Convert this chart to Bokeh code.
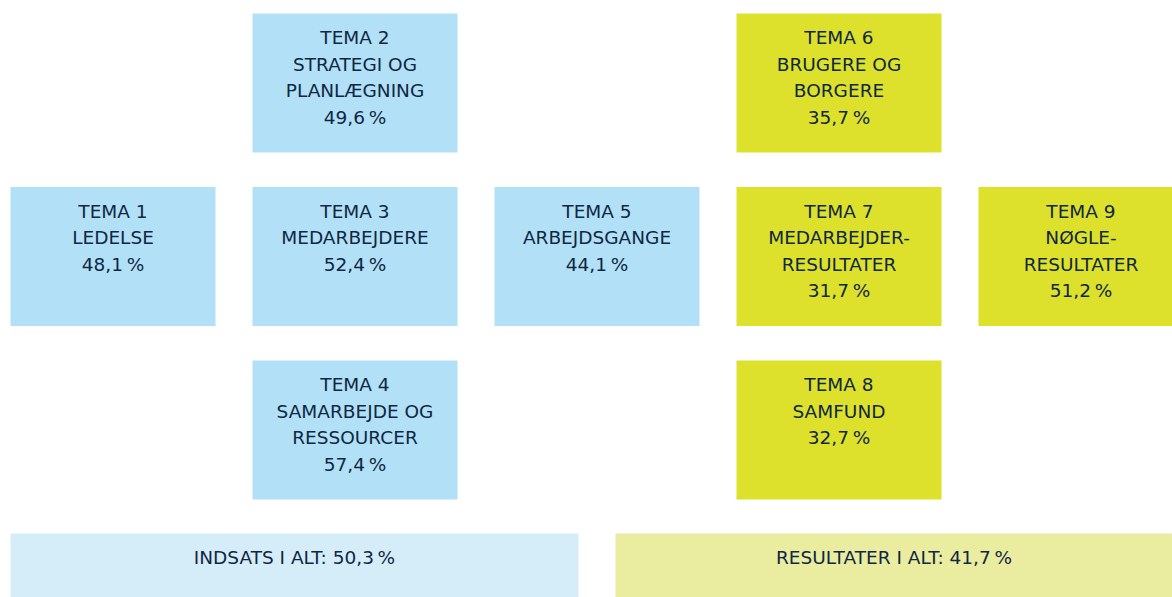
from bokeh.plotting import figure
from bokeh.models import Range1d, ColumnDataSource
from bokeh.core.properties import value
from bokeh.embed import file_html
from bokeh.resources import INLINE

# ---- data ----
theme_ids = ["TEMA 1", "TEMA 2", "TEMA 3", "TEMA 4", "TEMA 5", "TEMA 6", "TEMA 7", "TEMA 8", "TEMA 9"]
theme_names = [
    ["LEDELSE"],
    ["STRATEGI OG", "PLANLÆGNING"],
    ["MEDARBEJDERE"],
    ["SAMARBEJDE OG", "RESSOURCER"],
    ["ARBEJDSGANGE"],
    ["BRUGERE OG", "BORGERE"],
    ["MEDARBEJDER-", "RESULTATER"],
    ["SAMFUND"],
    ["NØGLE-", "RESULTATER"],
]
theme_pct = [48.1, 49.6, 52.4, 57.4, 44.1, 35.7, 31.7, 32.7, 51.2]
theme_group = ["indsats"] * 5 + ["resultater"] * 4
total_labels = ["INDSATS I ALT", "RESULTATER I ALT"]
total_pct = [50.3, 41.7]

# ---- layout (grid cells) ----
cell_col = [0, 1, 1, 1, 2, 3, 3, 3, 4]
cell_row = [1, 0, 1, 2, 1, 0, 1, 2, 1]
X0, DX, W = 10, 242, 205
Y0, DY, H = 13, 173.5, 139
LINE = 26.6
FIRST = 24

C_BLUE = "#b2e1f7"
C_YEL = "#dde12b"
C_BLUE_L = "#d5edf9"
C_YEL_L = "#eaeca0"
C_TXT = "#0f2742"
FONT = "DejaVu Sans"
FS = "18.5px"


def fmt(v):
    return f"{v:.1f}".replace(".", ",") + "\u2009%"


p = figure(width=1172, height=597, output_backend="svg", toolbar_location=None,
           x_range=Range1d(0, 1172), y_range=Range1d(597, 0),
           min_border=0, outline_line_color=None)
p.axis.visible = False
p.grid.visible = False
p.background_fill_color = "white"
p.border_fill_color = "white"

left = [X0 + c * DX for c in cell_col]
top = [Y0 + r * DY for r in cell_row]
colors = [C_BLUE if g == "indsats" else C_YEL for g in theme_group]
p.quad(left=left, right=[l + W for l in left], top=top, bottom=[t + H for t in top],
       fill_color=colors, line_color=None)

tx, ty, tt = [], [], []
for i in range(len(theme_ids)):
    lines = [theme_ids[i]] + theme_names[i] + [fmt(theme_pct[i])]
    for k, s in enumerate(lines):
        tx.append(left[i] + W / 2)
        ty.append(top[i] + FIRST + k * LINE)
        tt.append(s)

# totals
tot_left = [10, 615]
tot_right = [578, 1180]
tot_top = [533, 533]
p.quad(left=tot_left, right=tot_right, top=tot_top, bottom=[605, 605],
       fill_color=[C_BLUE_L, C_YEL_L], line_color=None)
for i in range(2):
    tx.append((tot_left[i] + min(tot_right[i], 1172)) / 2)
    ty.append(tot_top[i] + FIRST)
    tt.append(f"{total_labels[i]}: {fmt(total_pct[i])}")

src = ColumnDataSource(dict(x=tx, y=ty, t=tt))
p.text(x="x", y="y", text="t", source=src, text_align="center", text_baseline="middle",
       text_font=value(FONT), text_font_size=FS, text_color=C_TXT)

open("out.html", "w").write(file_html(p, INLINE))
